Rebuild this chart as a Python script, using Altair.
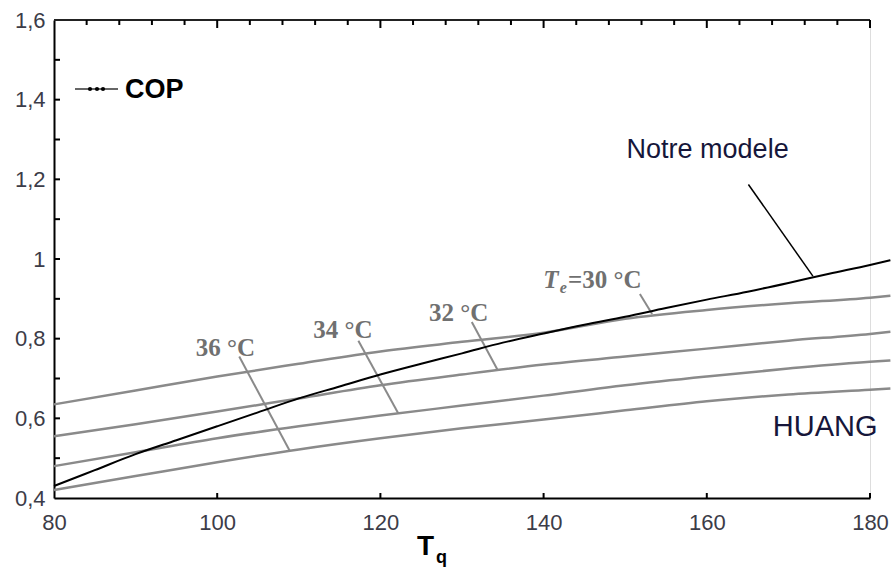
import altair as alt
import pandas as pd

# ---- data ----
model_tq = [80, 85, 90, 95, 100, 105, 110, 115, 120, 125, 130, 135, 140, 145, 150, 155, 160, 165, 170, 175, 180, 182.5]
model_cop = [0.43, 0.47, 0.51, 0.545, 0.58, 0.615, 0.65, 0.68, 0.71, 0.737, 0.763, 0.79, 0.813, 0.835, 0.855, 0.877, 0.898, 0.918, 0.94, 0.963, 0.985, 0.997]

huang_tq = [80, 90, 100, 110, 120, 130, 140, 150, 160, 170, 180, 182.5]
huang_30 = [0.635, 0.67, 0.705, 0.737, 0.768, 0.792, 0.815, 0.85, 0.872, 0.889, 0.903, 0.908]
huang_32 = [0.555, 0.585, 0.617, 0.65, 0.683, 0.71, 0.735, 0.755, 0.775, 0.795, 0.812, 0.8175]
huang_34 = [0.48, 0.515, 0.55, 0.58, 0.607, 0.632, 0.657, 0.683, 0.705, 0.725, 0.742, 0.745]
huang_36 = [0.42, 0.455, 0.49, 0.522, 0.55, 0.575, 0.597, 0.62, 0.643, 0.66, 0.672, 0.675]

x_ticks = [80, 100, 120, 140, 160, 180]
y_ticks = [0.4, 0.6, 0.8, 1.0, 1.2, 1.4, 1.6]
y_minor = [0.5, 0.6, 0.7, 0.8, 0.9, 1.0, 1.1, 1.2, 1.3, 1.4, 1.5]
top_minor = [84, 88, 92, 96, 104, 108, 112, 116, 124, 128, 132, 136, 144, 148, 152, 156, 164, 168, 172, 176]
top_major = [100, 120, 140, 160, 180]
bottom_major = [100, 120, 140, 160, 180]

# annotation labels (text, tq, cop)
temp_labels = ["36 °C", "34 °C", "32 °C"]
temp_label_tq = [101.0, 115.4, 129.6]
temp_label_cop = [0.777, 0.822, 0.864]

# leader lines (start tq, start cop, end tq, end cop)
lead_names = ["36", "34", "32", "30"]
lead_x1 = [102.7, 117.3, 131.2, 151.8]
lead_y1 = [0.755, 0.795, 0.842, 0.912]
lead_x2 = [108.9, 122.2, 134.4, 153.3]
lead_y2 = [0.518, 0.612, 0.720, 0.862]

model_lead = [165.1, 1.187, 173.0, 0.957]

W, H = 816, 478
SANS = "Liberation Sans"
SERIF = "Liberation Serif"

xscale = alt.Scale(domain=[80, 180], nice=False, zero=False)
yscale = alt.Scale(domain=[0.4, 1.6], nice=False, zero=False)

x_axis = alt.Axis(values=x_ticks, ticks=False, domainColor="black", domainWidth=2,
                  labelFont=SANS, labelFontSize=22, labelColor="#3c3c48", labelPadding=14,
                  grid=False, title=None, labelFlush=False, labelOverlap=False)
y_axis = alt.Axis(values=y_ticks, ticks=False, domainColor="black", domainWidth=2,
                  labelFont=SANS, labelFontSize=22, labelColor="#3c3c48", labelPadding=9,
                  grid=False, title=None, labelFlush=False, labelOverlap=False,
                  labelExpr="replace(format(datum.value, '.1~f'), '.', ',')")


def X(field=None, **kw):
    if field is None:
        return alt.X(scale=xscale, axis=x_axis, title=None, **kw)
    return alt.X(field, scale=xscale, axis=x_axis, title=None, **kw)


def Y(field=None, **kw):
    if field is None:
        return alt.Y(scale=yscale, axis=y_axis, title=None, **kw)
    return alt.Y(field, scale=yscale, axis=y_axis, title=None, **kw)


huang_df = pd.concat([
    pd.DataFrame({"tq": huang_tq, "cop": v, "serie": s})
    for s, v in [("30", huang_30), ("32", huang_32), ("34", huang_34), ("36", huang_36)]
])
model_df = pd.DataFrame({"tq": model_tq, "cop": model_cop})
one = pd.DataFrame({"a": [0]})

huang = alt.Chart(huang_df).mark_line(color="#8a8a8a", strokeWidth=2.5, clip=False,
                                      interpolate="monotone").encode(
    x=X("tq:Q"), y=Y("cop:Q"), detail="serie:N")

model = alt.Chart(model_df).mark_line(color="black", strokeWidth=2, clip=False,
                                      interpolate="monotone").encode(
    x=X("tq:Q"), y=Y("cop:Q"))

lead_df = pd.DataFrame({"n": lead_names, "x1": lead_x1, "y1": lead_y1, "x2": lead_x2, "y2": lead_y2})
leaders = alt.Chart(lead_df).mark_rule(color="#8a8a8a", strokeWidth=2).encode(
    x=X("x1:Q"), y=Y("y1:Q"), x2="x2:Q", y2="y2:Q")
model_leader = alt.Chart(one).mark_rule(color="black", strokeWidth=1.5).encode(
    x=X(datum=model_lead[0]), y=Y(datum=model_lead[1]),
    x2=alt.X2(datum=model_lead[2]), y2=alt.Y2(datum=model_lead[3]))

tl_df = pd.DataFrame({"t": temp_labels, "x": temp_label_tq, "y": temp_label_cop})
temp_text = alt.Chart(tl_df).mark_text(font=SERIF, fontSize=25, fontWeight="bold",
                                        color="#707070", align="center", baseline="middle").encode(
    x=X("x:Q"), y=Y("y:Q"), text="t:N")


def txt(text, xv, yv, size, color, weight="normal", font=SANS, style="normal", align="center",
        baseline="middle"):
    return alt.Chart(one).mark_text(text=text, font=font, fontSize=size, fontWeight=weight,
                                    fontStyle=style, color=color, align=align,
                                    baseline=baseline).encode(x=X(datum=xv), y=Y(datum=yv))


te_T = txt("T", 140.9, 0.947, 25, "#707070", "bold", SERIF, "italic")
te_e = txt("e", 142.4, 0.926, 16, "#707070", "bold", SERIF, "italic")
te_rest = txt("=30 °C", 143.0, 0.947, 25, "#707070", "bold", SERIF, align="left")
notre = txt("Notre modele", 160.1, 1.274, 27, "#16163a")
huang_lbl = txt("HUANG", 174.5, 0.578, 29, "#16163a")

# axis frame details
left_ticks = alt.Chart(pd.DataFrame({"v": y_minor})).mark_rule(color="black", strokeWidth=2).encode(
    y=Y("v:Q"), x=alt.value(0), x2=alt.value(6))
top_frame = alt.Chart(one).mark_rule(color="#222222", strokeWidth=2).encode(
    x=alt.value(0), x2=alt.value(W), y=alt.value(0))
top_min = alt.Chart(pd.DataFrame({"v": top_minor})).mark_rule(color="black", strokeWidth=2).encode(
    x=X("v:Q"), y=alt.value(0), y2=alt.value(5))
top_maj = alt.Chart(pd.DataFrame({"v": top_major})).mark_rule(color="black", strokeWidth=2).encode(
    x=X("v:Q"), y=alt.value(0), y2=alt.value(8))
bot_maj = alt.Chart(pd.DataFrame({"v": bottom_major})).mark_rule(color="black", strokeWidth=2).encode(
    x=X("v:Q"), y=alt.value(H), y2=alt.value(H - 5))

# legend
leg_line = alt.Chart(one).mark_rule(color="#333333", strokeWidth=1.5).encode(
    x=alt.value(21), x2=alt.value(64), y=alt.value(69))
leg_pts = [alt.Chart(one).mark_point(filled=True, color="black", size=18, opacity=1).encode(
    x=alt.value(px), y=alt.value(69)) for px in (36, 43, 49)]
leg_txt = alt.Chart(one).mark_text(text="COP", font=SANS, fontSize=27, fontWeight="bold",
                                   color="black", align="left", baseline="middle").encode(
    x=alt.value(71), y=alt.value(70))

# x title T_q
t_title = alt.Chart(one).mark_text(text="T", font=SANS, fontSize=28, fontWeight="bold",
                                   color="black", align="left", baseline="alphabetic").encode(
    x=alt.value(363), y=alt.value(535))
q_title = alt.Chart(one).mark_text(text="q", font=SANS, fontSize=18, fontWeight="bold",
                                   color="black", align="left", baseline="alphabetic").encode(
    x=alt.value(382), y=alt.value(543))

chart = alt.layer(
    huang, leaders, model_leader, model, temp_text, te_T, te_e, te_rest, notre, huang_lbl,
    left_ticks, top_frame, top_min, top_maj, bot_maj, leg_line, *leg_pts, leg_txt,
    t_title, q_title,
).properties(
    width=W, height=H, autosize="none",
    padding={"left": 54, "top": 20, "right": 24, "bottom": 70},
).configure_view(stroke=None).configure(background="white")

chart.save("out.html", embed_options={"renderer": "svg", "actions": False})
